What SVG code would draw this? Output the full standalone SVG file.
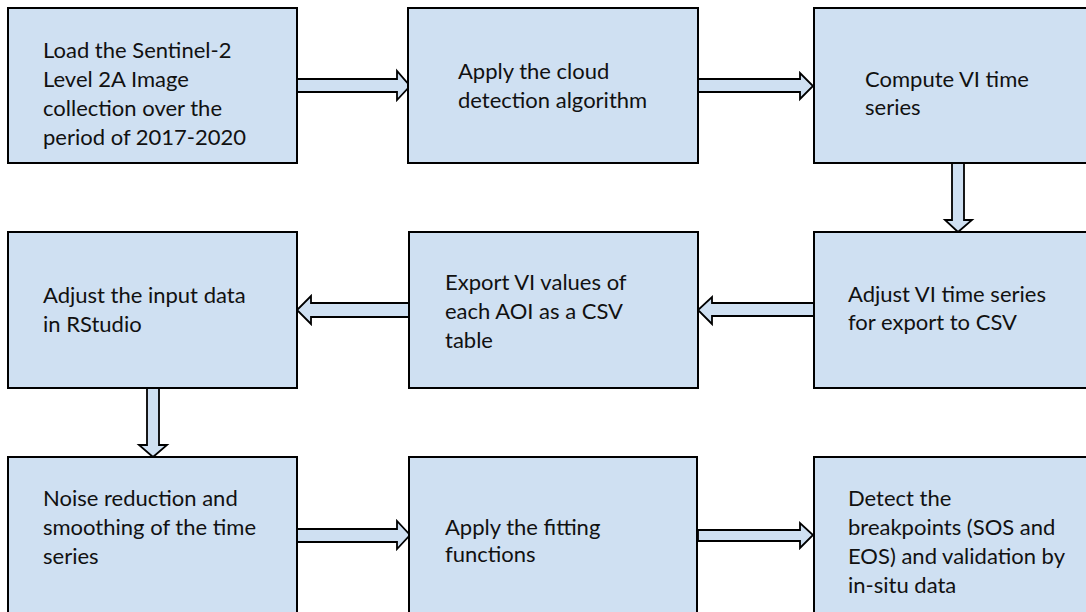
<svg xmlns="http://www.w3.org/2000/svg" width="1086" height="612" viewBox="0 0 1086 612">
<style>
.box{fill:#cfe0f2;stroke:#000;stroke-width:2}
.arr{fill:#cfe0f2;stroke:#000;stroke-width:1.8;stroke-linejoin:miter}
text{font-family:Lato,"Liberation Sans",sans-serif;font-size:22px;fill:#111}
</style>
<rect width="1086" height="612" fill="#fff"/>
<g id="connectors">
<path class="arr" d="M297,79 H397 V71 L410,86 L397,100 V92 H297 Z"/>
<path class="arr" d="M698,79 H800 V73 L813,86 L800,99 V92 H698 Z"/>
<path class="arr" d="M952,163 V220 H945 L958,232 L972,220 H964 V163 Z"/>
<path class="arr" d="M814,303 H712 V297 L698,310 L712,324 V316 H814 Z"/>
<path class="arr" d="M409,303 H311 V296 L297,310 L311,324 V317 H409 Z"/>
<path class="arr" d="M147,388 V445 H139 L153,457 L167,445 H159 V388 Z"/>
<path class="arr" d="M297,529 H397 V521 L410,535 L397,549 V542 H297 Z"/>
<path class="arr" d="M698,530 H800 V523 L813,535 L800,548 V541 H698 Z"/>
</g>
<g id="n1"><rect class="box" x="8" y="8" width="289" height="155"/>
<text x="43" y="58">Load the Sentinel-2</text><text x="43" y="87">Level 2A Image</text><text x="43" y="116">collection over the</text><text x="43" y="145">period of 2017-2020</text></g>
<g id="n2"><rect class="box" x="408" y="8" width="290" height="155"/>
<text x="458" y="79">Apply the cloud</text><text x="458" y="108">detection algorithm</text></g>
<g id="n3"><rect class="box" x="814" y="8" width="290" height="155"/>
<text x="865" y="87">Compute VI time</text><text x="865" y="115">series</text></g>
<g id="n4"><rect class="box" x="8" y="232" width="289" height="156"/>
<text x="43" y="303">Adjust the input data</text><text x="43" y="332">in RStudio</text></g>
<g id="n5"><rect class="box" x="409" y="232" width="289" height="156"/>
<text x="445" y="290">Export VI values of</text><text x="445" y="319">each AOI as a CSV</text><text x="445" y="348">table</text></g>
<g id="n6"><rect class="box" x="814" y="232" width="290" height="156"/>
<text x="848" y="302">Adjust VI time series</text><text x="848" y="330">for export to CSV</text></g>
<g id="n7"><rect class="box" x="8" y="457" width="289" height="160"/>
<text x="43" y="506">Noise reduction and</text><text x="43" y="535">smoothing of the time</text><text x="43" y="564">series</text></g>
<g id="n8"><rect class="box" x="409" y="457" width="288" height="160"/>
<text x="445" y="535">Apply the fitting</text><text x="445" y="562">functions</text></g>
<g id="n9"><rect class="box" x="814" y="457" width="290" height="160"/>
<text x="848" y="506">Detect the</text><text x="848" y="535">breakpoints (SOS and</text><text x="848" y="564">EOS) and validation by</text><text x="848" y="593">in-situ data</text></g>
</svg>
